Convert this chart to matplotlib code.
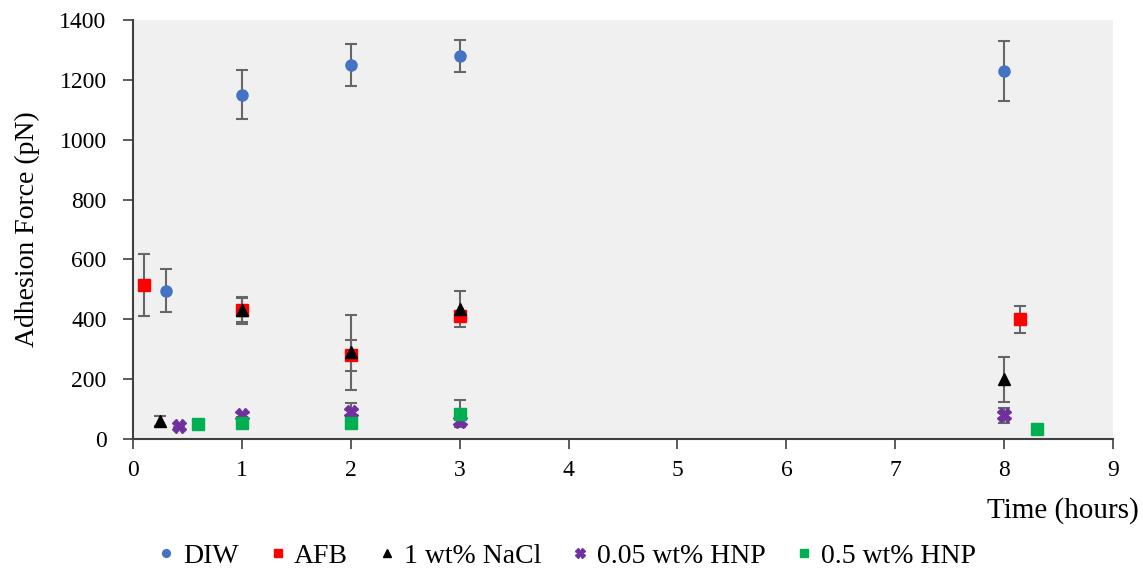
import matplotlib.pyplot as plt
from matplotlib.lines import Line2D

# data
diw_x = [0.3, 1, 2, 3, 8]
diw_y = [495, 1150, 1250, 1280, 1230]
diw_err = [72, 82, 70, 55, 100]

afb_x = [0.1, 1, 2, 3, 8.15]
afb_y = [515, 430, 280, 410, 400]
afb_err = [105, 40, 52, 8, 45]

nacl_x = [0.25, 1, 2, 3, 8]
nacl_y = [60, 430, 290, 435, 200]
nacl_err = [18, 45, 125, 60, 75]

hnp05_x = [0.42, 1, 2, 3, 8]
hnp05_y = [45, 80, 90, 60, 80]
hnp05_err = [5, 8, 30, 15, 25]

hnp5_x = [0.6, 1, 2, 3, 8.3]
hnp5_y = [50, 55, 55, 85, 32]
hnp5_err = [5, 5, 8, 45, 5]

xticks = list(range(10))
yticks = list(range(0, 1401, 200))

plt.rcParams['font.family'] = ['Liberation Serif', 'DejaVu Serif']

fig = plt.figure(figsize=(11.43, 5.75), dpi=100)
ax = fig.add_axes([0.1164, 0.2365, 0.8574, 0.7285])
ax.set_facecolor('#f0f0f0')

series = [
    (diw_x, diw_y, diw_err, 'o', '#4472c4', 8, 'DIW'),
    (afb_x, afb_y, afb_err, 's', '#ff0000', 8, 'AFB'),
    (nacl_x, nacl_y, nacl_err, '^', 'black', 9, '1 wt% NaCl'),
    (hnp05_x, hnp05_y, hnp05_err, 'X', '#7030a0', 10, '0.05 wt% HNP'),
    (hnp5_x, hnp5_y, hnp5_err, 's', '#00b050', 8, '0.5 wt% HNP'),
]

handles = []
for x, y, e, m, c, ms, lab in series:
    ax.errorbar(x, y, yerr=e, fmt=m, color=c, ms=ms, ecolor='#666666',
                elinewidth=1.5, capsize=4, capthick=1.5, linestyle='none')
    handles.append(Line2D([], [], marker=m, color=c, linestyle='none', ms=ms * 0.7, label=lab))

ax.set_xlim(0, 9)
ax.set_ylim(0, 1400)
ax.set_xticks(xticks)
ax.set_yticks(yticks)
ax.tick_params(labelsize=17, length=7, width=1.2, color='#404040')
ax.tick_params(axis='y', pad=12)
ax.tick_params(axis='x', pad=8)
for s in ['top', 'right']:
    ax.spines[s].set_visible(False)
for s in ['left', 'bottom']:
    ax.spines[s].set_color('#404040')
    ax.spines[s].set_linewidth(1.5)

ax.set_ylabel('Adhesion Force (pN)', fontsize=20, labelpad=14)
fig.text(0.996, 0.088, 'Time (hours)', fontsize=21, ha='right', va='bottom')

ax.legend(handles=handles, loc='upper center', bbox_to_anchor=(0.44, -0.19), ncol=5,
          frameon=False, fontsize=20, handletextpad=0.1, handlelength=1.0,
          columnspacing=0.9)

fig.savefig('out.png', dpi=100)
